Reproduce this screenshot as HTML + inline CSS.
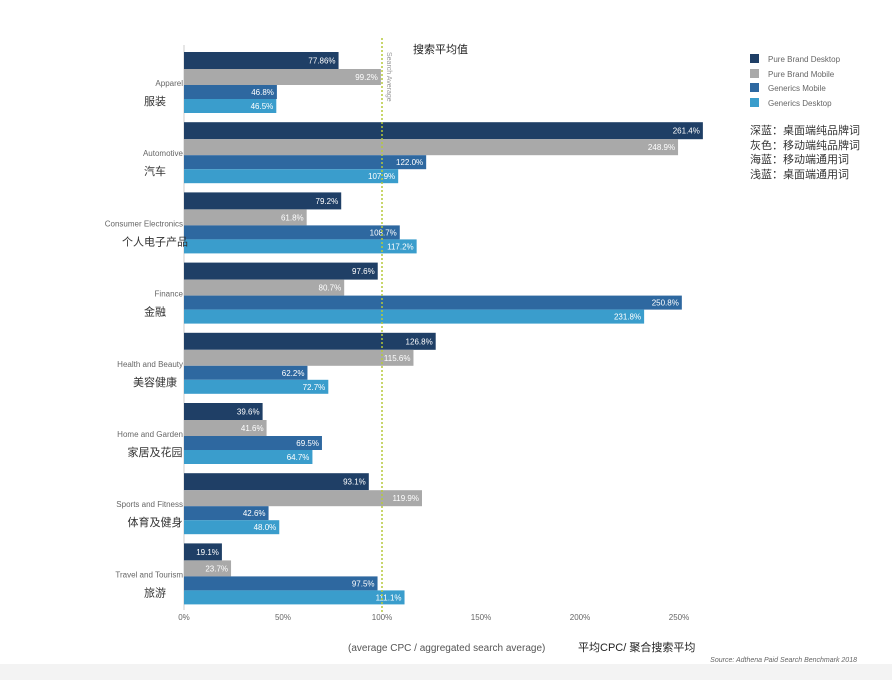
<!DOCTYPE html>
<html><head><meta charset="utf-8"><style>
body{margin:0;background:#fff;}
svg{display:block;font-family:"Liberation Sans","Noto Sans CJK SC",sans-serif;}
</style></head><body>
<svg width="892" height="680" viewBox="0 0 892 680" xmlns="http://www.w3.org/2000/svg">
<rect width="892" height="680" fill="#fff"/>
<rect x="0" y="664" width="892" height="16" fill="#f3f3f3"/>
<line x1="184" y1="45" x2="184" y2="610" stroke="#ccc" stroke-width="1"/>
<g id="bars"></g>
<line x1="382" y1="38" x2="382" y2="612" stroke="#b5c93a" stroke-width="1.5" stroke-dasharray="2,2"/>
<text x="0" y="0" font-size="7" fill="#999" transform="translate(387,52) rotate(90)">Search Average</text>
<text x="413" y="53" font-size="11" fill="#222">搜索平均值</text>
<g font-size="8" fill="#666" text-anchor="middle">
<text x="184" y="620">0%</text><text x="283" y="620">50%</text><text x="382" y="620">100%</text>
<text x="481" y="620">150%</text><text x="580" y="620">200%</text><text x="679" y="620">250%</text>
</g>
<text x="348" y="651" font-size="10" fill="#555">(average CPC / aggregated search average)</text>
<text x="578" y="651" font-size="11" fill="#222">平均CPC/ 聚合搜索平均</text>
<text x="857" y="662" font-size="7" fill="#666" font-style="italic" text-anchor="end">Source: Adthena Paid Search Benchmark 2018</text>
<g font-size="8" fill="#666">
<rect x="750" y="54" width="9" height="9" fill="#1f3f66"/><text x="768" y="62">Pure Brand Desktop</text>
<rect x="750" y="69" width="9" height="9" fill="#a9a9a9"/><text x="768" y="77">Pure Brand Mobile</text>
<rect x="750" y="83" width="9" height="9" fill="#2e68a0"/><text x="768" y="91">Generics Mobile</text>
<rect x="750" y="98" width="9" height="9" fill="#3a9dcc"/><text x="768" y="106">Generics Desktop</text>
</g>
<g font-size="11" fill="#333">
<text x="750" y="134">深蓝：桌面端纯品牌词</text>
<text x="750" y="149">灰色：移动端纯品牌词</text>
<text x="750" y="163">海蓝：移动端通用词</text>
<text x="750" y="178">浅蓝：桌面端通用词</text>
</g>
<g id="labels"></g>
</svg>
<script>
var data=[["Apparel","服装",[77.86,99.2,46.8,46.5],["77.86%","99.2%","46.8%","46.5%"]],
["Automotive","汽车",[261.4,248.9,122.0,107.9]],
["Consumer Electronics","个人电子产品",[79.2,61.8,108.7,117.2]],
["Finance","金融",[97.6,80.7,250.8,231.8]],
["Health and Beauty","美容健康",[126.8,115.6,62.2,72.7]],
["Home and Garden","家居及花园",[39.6,41.6,69.5,64.7]],
["Sports and Fitness","体育及健身",[93.1,119.9,42.6,48.0]],
["Travel and Tourism","旅游",[19.1,23.7,97.5,111.1]]];
var cols=["#1f3f66","#a9a9a9","#2e68a0","#3a9dcc"];
var offs=[0,17,33,47],hs=[17,16,14,14];
var ns="http://www.w3.org/2000/svg",b=document.getElementById("bars"),l=document.getElementById("labels");
function mk(p,t,a,txt){var e=document.createElementNS(ns,t);for(var k in a)e.setAttribute(k,a[k]);if(txt)e.textContent=txt;p.appendChild(e);return e;}
data.forEach(function(d,i){var g=52+i*70.2;
d[2].forEach(function(v,j){var w=v*1.985,y=g+offs[j];
mk(b,"rect",{x:184,y:y,width:w,height:hs[j],fill:cols[j]});
var s=d[3]?d[3][j]:v.toFixed(1)+"%";
mk(b,"text",{x:184+w-3,y:y+hs[j]/2+3,"font-size":8,fill:"#fff","text-anchor":"end"},s);});
mk(l,"text",{x:183,y:g+34,"font-size":8,fill:"#666","text-anchor":"end"},d[0]);
mk(l,"text",{x:155,y:g+53,"font-size":11,fill:"#333","text-anchor":"middle"},d[1]);
});
</script>
</body></html>
